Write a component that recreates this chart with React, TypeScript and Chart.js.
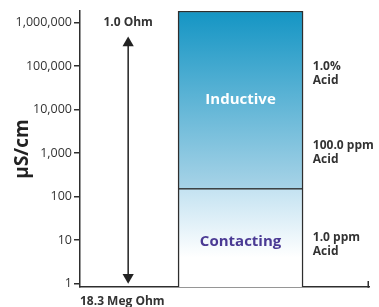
import { useEffect, useRef } from 'react';
import { Chart, registerables } from 'chart.js';

Chart.register(...registerables);

// ---- data ----
const yTickValues = [1, 10, 100, 1000, 10000, 100000, 1000000];
const yMin = 0.83;
const yMax = 1850000;
const zoneNames = ['Inductive', 'Contacting'];
const zoneLow = [155, yMin];
const zoneHigh = [yMax, 155];
const arrowValues = [340000, 1.4];
const topArrowLabel = '1.0 Ohm';
const bottomArrowLabel = '18.3 Meg Ohm';
const acidLabels = [['1.0%', 'Acid'], ['100.0 ppm', 'Acid'], ['1.0 ppm', 'Acid']];
const acidValues = [66000, 1000, 8];
const yTitle = 'μS/cm';

// column positions on the hidden x scale
const xMax = 18;
const arrowCol = 3;
const meterCol = 10;
const labelCol = 14.5;

const FONT = "'Open Sans', sans-serif";
const DARK = '#2e2e2e';

function gradientFor(chart: any, index: number) {
  const { ctx, chartArea, scales } = chart;
  if (!chartArea || !scales.y) return 'rgba(0,0,0,0)';
  const y = scales.y;
  if (index === 0) {
    const g = ctx.createLinearGradient(0, y.getPixelForValue(zoneHigh[0]), 0, y.getPixelForValue(zoneLow[0]));
    g.addColorStop(0, '#1495c4');
    g.addColorStop(1, '#a7d3e7');
    return g;
  }
  const top = y.getPixelForValue(zoneHigh[1]);
  const bottom = y.getPixelForValue(zoneLow[1]);
  const g = ctx.createLinearGradient(0, top, 0, bottom);
  g.addColorStop(0, '#c3e2f1');
  g.addColorStop(0.7, '#ffffff');
  g.addColorStop(1, '#ffffff');
  return g;
}

const labelPlugin = {
  id: 'labels',
  afterDatasetsDraw(chart: any) {
    const { ctx, scales } = chart;
    const x = scales.x;
    const y = scales.y;
    ctx.save();
    // small upward tick at the right end of the x axis
    ctx.strokeStyle = DARK;
    ctx.lineWidth = 1.5;
    ctx.beginPath();
    ctx.moveTo(x.right - 0.75, x.top + 0.75);
    ctx.lineTo(x.right - 0.75, x.top - 6);
    ctx.stroke();

    ctx.textBaseline = 'middle';
    // top arrow label
    ctx.font = `bold 12px ${FONT}`;
    ctx.fillStyle = '#333';
    ctx.textAlign = 'center';
    ctx.fillText(topArrowLabel, x.getPixelForValue(arrowCol), y.getPixelForValue(1000000));
    // zone labels
    zoneNames.forEach((name, i) => {
      const el = chart.getDatasetMeta(i).data[0];
      if (!el) return;
      const cy = (el.y + el.base) / 2 + (i === 1 ? 4 : 0);
      ctx.font = `bold 15px ${FONT}`;
      ctx.fillStyle = i === 0 ? '#ffffff' : '#4a3a94';
      ctx.textAlign = 'center';
      ctx.fillText(name, el.x, cy);
    });
    // acid labels
    ctx.font = `bold 12px ${FONT}`;
    ctx.fillStyle = '#333';
    ctx.textAlign = 'left';
    acidLabels.forEach((lines, i) => {
      const cy = y.getPixelForValue(acidValues[i]);
      const lh = 14;
      lines.forEach((t, j) => {
        ctx.fillText(t, x.getPixelForValue(labelCol), cy + (j - (lines.length - 1) / 2) * lh);
      });
    });
    ctx.restore();
  },
};

export default function App() {
  const ref = useRef<HTMLCanvasElement>(null);
  useEffect(() => {
    if (!ref.current) return;
    Chart.defaults.font.family = FONT;
    const chart = new Chart(ref.current, {
      type: 'bar',
      data: {
        datasets: [
          ...zoneNames.map((name, i) => ({
            type: 'bar' as const,
            label: name,
            data: [{ x: meterCol, y: [zoneLow[i], zoneHigh[i]] }],
            grouped: false,
            barThickness: 125,
            order: 2,
            backgroundColor: (c: any) => gradientFor(c.chart, i),
            borderColor: DARK,
            borderWidth: { top: 1.5, left: 1.5, right: 1.5, bottom: 0 },
            borderSkipped: false,
          })),
          {
            type: 'line' as const,
            label: 'range',
            order: 1,
            data: arrowValues.map((v) => ({ x: arrowCol, y: v })),
            borderColor: '#222',
            borderWidth: 1.5,
            pointStyle: 'triangle',
            pointRadius: 6.5,
            pointHoverRadius: 6.5,
            pointRotation: [0, 180],
            pointBackgroundColor: '#222',
            pointBorderColor: '#222',
            pointBorderWidth: 0,
          },
        ] as any,
      },
      options: {
        animation: false,
        responsive: true,
        maintainAspectRatio: false,
        layout: { padding: { top: 11, right: 10, bottom: 0, left: 0 } },
        plugins: { legend: { display: false }, tooltip: { enabled: false } },
        scales: {
          x: {
            type: 'linear',
            min: 0,
            max: xMax,
            offset: false,
            afterFit: (s: any) => {
              s.height = 20;
            },
            ticks: { display: false },
            grid: { display: false },
            border: { display: true, color: DARK, width: 1.5 },
            title: {
              display: true,
              text: bottomArrowLabel,
              align: 'start',
              color: '#333',
              font: { family: FONT, size: 12, weight: 'bold' },
              padding: { top: 0, bottom: -2 },
            },
          },
          y: {
            type: 'logarithmic',
            min: yMin,
            max: yMax,
            afterBuildTicks: (s: any) => {
              s.ticks = yTickValues.map((v) => ({ value: v }));
            },
            afterFit: (s: any) => {
              s.width = 80;
            },
            ticks: {
              color: '#333',
              padding: 2,
              font: { family: FONT, size: 12.5 },
              callback: (v: any) => Number(v).toLocaleString('en-US'),
            },
            grid: { drawOnChartArea: false, drawTicks: true, tickLength: 6, color: DARK, lineWidth: 1.5 },
            border: { display: true, color: DARK, width: 1.5 },
            title: {
              display: true,
              text: yTitle,
              color: '#222',
              font: { family: FONT, size: 19, weight: 'bold' },
              padding: { top: 11, bottom: 0 },
            },
          },
        },
      },
      plugins: [labelPlugin],
    });
    return () => chart.destroy();
  }, []);
  return (
    <div style={{ position: 'absolute', left: 0, top: 0, width: 379, height: 307 }}>
      <canvas ref={ref} />
    </div>
  );
}
